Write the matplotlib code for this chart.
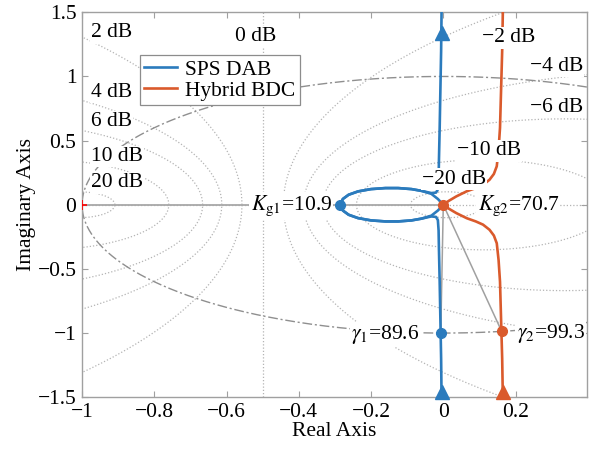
import numpy as np
import matplotlib
matplotlib.use("agg")
import matplotlib.pyplot as plt

plt.rcParams["font.family"] = ["Liberation Serif", "DejaVu Serif"]
plt.rcParams["mathtext.fontset"] = "stix"
plt.rcParams["font.size"] = 15.5

# closed-loop magnitude contours drawn as the background grid (dB)
M_DB = [-20, -10, -6, -4, -2, 2, 4, 6, 10, 20]
M_LABELS = ["2 dB", "0 dB", "4 dB", "6 dB", "10 dB", "20 dB",
            "\u22122 dB", "\u22124 dB", "\u22126 dB", "\u221210 dB", "\u221220 dB"]
M_LABEL_XY = [(-0.975, 1.34), (-0.576, 1.31), (-0.975, 0.875), (-0.975, 0.65),
              (-0.975, 0.375), (-0.975, 0.17), (0.106, 1.30), (0.239, 1.08),
              (0.239, 0.76), (0.037, 0.42), (-0.059, 0.20)]

# Nyquist loci, positive-frequency branch (omega -> 0+ at the bottom)
sps_re = [-0.004, -0.006, -0.008, -0.010, -0.012, -0.013, -0.015, -0.020, -0.033,
          -0.060, -0.088, -0.125, -0.160, -0.200, -0.236, -0.262, -0.278, -0.285,
          -0.278, -0.262, -0.236, -0.200, -0.160, -0.125, -0.088, -0.060, -0.033,
          -0.015, 0.0]
sps_im = [-1.70, -1.20, -0.90, -0.60, -0.35, -0.20, -0.12, -0.095, -0.091,
          -0.108, -0.122, -0.130, -0.130, -0.122, -0.104, -0.078, -0.045, 0.0,
          0.045, 0.078, 0.104, 0.122, 0.130, 0.130, 0.122, 0.108, 0.085,
          0.045, 0.0]
hyb_re = [0.166, 0.163, 0.160, 0.157, 0.153, 0.148, 0.140, 0.128, 0.110, 0.090,
          0.065, 0.036, 0.015, 0.0]
hyb_im = [-1.70, -1.20, -0.90, -0.60, -0.43, -0.30, -0.24, -0.195, -0.155, -0.13,
          -0.105, -0.065, -0.03, 0.0]

# gain margins (dB) and phase margins (deg)
kg = [10.9, 70.7]
gamma = [89.6, 99.3]

BLUE = "#2b7bbd"
ORANGE = "#da5a2c"
GRID = "#b4b4b4"
FRAME = "#a0a0a0"

fig = plt.figure(figsize=(6.03, 4.55), dpi=100)
ax = fig.add_axes([0.136, 0.127, 0.837, 0.846])

# M-circle grid
th = np.linspace(0, 2 * np.pi, 721)
for db in M_DB:
    m = 10 ** (db / 20)
    c = -m**2 / (m**2 - 1)
    r = abs(m / (m**2 - 1))
    ax.plot(c + r * np.cos(th), r * np.sin(th), ls=(0, (1, 1.6)), lw=0.9,
            color=GRID, zorder=1)
ax.axvline(-0.5, ls=(0, (1, 1.6)), lw=0.9, color=GRID, zorder=1)
ax.axhline(0, ls=(0, (1, 1.6)), lw=0.9, color=GRID, zorder=1)

# unit circle
ax.plot(np.cos(th), np.sin(th), ls=(0, (7, 2, 1.5, 2)), lw=1.0, color="#8f8f8f", zorder=2)

# stability margin points
kg_x = [-10 ** (-k / 20) for k in kg]
gm_pts = [(np.cos(np.deg2rad(-180 + g)), np.sin(np.deg2rad(-180 + g))) for g in gamma]
ax.plot([-1, 0], [0, 0], color="#a8a8a8", lw=1.3, zorder=3)
for px, py in gm_pts:
    ax.plot([0, px], [0, py], color="#a0a0a0", lw=1.1, zorder=3)

for re, im, col, lab in [(sps_re, sps_im, BLUE, "SPS DAB"),
                         (hyb_re, hyb_im, ORANGE, "Hybrid BDC")]:
    re = np.array(re)
    im = np.array(im)
    ax.plot(re, im, color=col, lw=1.9, zorder=4, label=lab)
    ax.plot(re, -im, color=col, lw=1.9, zorder=4)

# direction arrows
ax.plot([sps_re[0], -0.004], [-1.46, 1.34], "^", color=BLUE, ms=10, zorder=5,
        clip_on=False)
ax.plot([hyb_re[0]], [-1.46], "^", color=ORANGE, ms=10, zorder=5, clip_on=False)

ax.plot([kg_x[0]], [0], "o", color=BLUE, ms=7, zorder=6)
ax.plot([kg_x[1]], [0], "o", color=ORANGE, ms=7, zorder=6)
ax.plot([gm_pts[0][0]], [gm_pts[0][1]], "o", color=BLUE, ms=7, zorder=6)
ax.plot([gm_pts[1][0]], [gm_pts[1][1]], "o", color=ORANGE, ms=7, zorder=6)
ax.plot([-1], [0], "+", color="red", ms=7, mew=1.2, zorder=6)

box = dict(facecolor="white", edgecolor="none", pad=1.0)
for txt, (tx, ty) in zip(M_LABELS, M_LABEL_XY):
    ax.text(tx, ty, txt, ha="left", va="center", bbox=box, zorder=7)

ax.text(-0.308, -0.01, r"$K_{\mathrm{g1}}$=%.1f" % kg[0], ha="right", va="center",
        bbox=box, zorder=7)
ax.text(0.095, -0.01, r"$K_{\mathrm{g2}}$=%.1f" % kg[1], ha="left", va="center",
        bbox=box, zorder=7)
ax.text(-0.065, -1.01, r"$\gamma_1$=%.1f" % gamma[0], ha="right", va="center",
        bbox=box, zorder=7)
ax.text(0.203, -1.0, r"$\gamma_2$=%.1f" % gamma[1], ha="left", va="center",
        bbox=box, zorder=7)

ax.set_xlim(-1, 0.397)
ax.set_ylim(-1.5, 1.5)
ax.set_xticks([-1, -0.8, -0.6, -0.4, -0.2, 0, 0.2])
ax.set_xticklabels(["\u22121", "\u22120.8", "\u22120.6", "\u22120.4", "\u22120.2", "0", "0.2"])
ax.set_yticks([-1.5, -1, -0.5, 0, 0.5, 1, 1.5])
ax.set_yticklabels(["\u22121.5", "\u22121", "\u22120.5", "0", "0.5", "1", "1.5"])
ax.tick_params(direction="in", top=True, right=True, length=4, width=0.8,
               color=FRAME, pad=4)
for s in ax.spines.values():
    s.set_color(FRAME)
    s.set_linewidth(1.0)
ax.set_xlabel("Real Axis", labelpad=0)
ax.set_ylabel("Imaginary Axis", labelpad=1)

leg = ax.legend(loc="upper left", bbox_to_anchor=(0.115, 0.888), borderaxespad=0,
                fancybox=False, framealpha=1, edgecolor="#8c8c8c",
                handlelength=1.5, handletextpad=0.4, labelspacing=0.05,
                borderpad=0.2)
leg.get_frame().set_linewidth(0.9)
leg.set_zorder(8)

fig.savefig("out.png", dpi=100)
